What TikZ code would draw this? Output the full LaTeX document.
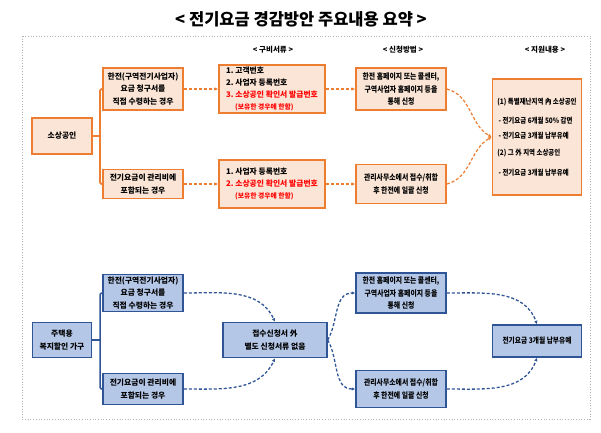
\documentclass[tikz,border=0pt]{standalone}
\usepackage{fontspec}
\setmainfont{Noto Sans CJK KR}
\newfontfamily\narrowkr{Noto Sans CJK KR}[FakeStretch=0.86]
\usetikzlibrary{arrows.meta, positioning, calc}
\definecolor{orline}{HTML}{ED7D31}
\definecolor{orfill}{HTML}{FBE5D6}
\definecolor{blline}{HTML}{2F5597}
\definecolor{blfill}{HTML}{B4C7E7}
\definecolor{redtxt}{HTML}{FF0000}

\begin{document}
\begin{tikzpicture}[x=1pt, y=-1pt, >={Latex[length=3.5pt,width=3.5pt]},
  obox/.style={draw=orline, fill=orfill, line width=1.8pt, inner sep=2pt, align=center,
    font=\bfseries\fontsize{7.8}{12.5}\selectfont},
  bbox/.style={draw=blline, fill=blfill, line width=1.5pt, inner sep=2pt, align=center,
    font=\bfseries\fontsize{7.8}{12.5}\selectfont},
  oline/.style={draw=orline, line width=1.8pt, rounded corners=2pt},
  bline/.style={draw=blline, line width=1.5pt, rounded corners=2pt},
  odash/.style={draw=orline, line width=1.2pt, dash pattern=on 3pt off 2pt, ->},
  bdash/.style={draw=blline, line width=1.3pt, dash pattern=on 3pt off 2pt, ->},
  head/.style={font=\bfseries\fontsize{7.5}{9}\selectfont}]
  \useasboundingbox (0,0) rectangle (601,432);

  % title, frame and column heads
  \node[font=\bfseries\fontsize{16.5}{19}\selectfont] (title) at (301,19) {< 전기요금 경감방안 주요내용 요약 >};
  \draw[gray!60, dotted, line width=0.7pt] (22,36) rectangle (590,419);
  \node[head] (hdocs) at (273,50) {< 구비서류 >};
  \node[head] (happly) at (403,50) {< 신청방법 >};
  \node[head] (hsupport) at (545,50) {< 지원내용 >};

  % upper part: small business owners
  \node[obox, minimum width=60pt, minimum height=36pt] (sbiz) at (62,136) {소상공인};
  \node[obox, minimum width=80pt, minimum height=42pt] (case1) at (143,89)
    {한전(구역전기사업자)\\요금 청구서를\\직접 수령하는 경우};
  \node[obox, minimum width=80pt, minimum height=29pt] (case2) at (143,184)
    {전기요금이 관리비에\\포함되는 경우};
  \node[obox, minimum width=106pt, minimum height=48pt, align=left,
    font=\bfseries\fontsize{7.8}{11.8}\selectfont] (docs1) at (272,89)
    {1.\ 고객번호\\2.\ 사업자 등록번호\\{\color{redtxt}3.\ 소상공인 확인서 발급번호}\\
     \hspace*{9pt}{\color{redtxt}\fontsize{6.8}{8}\selectfont(보유한 경우에 한함)}};
  \node[obox, minimum width=106pt, minimum height=48pt, align=left,
    font=\bfseries\fontsize{7.8}{11.8}\selectfont] (docs2) at (272,184)
    {1.\ 사업자 등록번호\\{\color{redtxt}2.\ 소상공인 확인서 발급번호}\\
     \hspace*{9pt}{\color{redtxt}\fontsize{6.8}{8}\selectfont(보유한 경우에 한함)}};
  \node[obox, minimum width=90pt, minimum height=42pt, font=\narrowkr\bfseries\fontsize{8}{12.8}\selectfont] (apply1) at (401,89)
    {한전 홈페이지 또는 콜센터,\\구역사업자 홈페이지 등을\\통해 신청};
  \node[obox, minimum width=90pt, minimum height=39pt, font=\narrowkr\bfseries\fontsize{8}{12.8}\selectfont] (apply2) at (401,184)
    {관리사무소에서 접수/취합\\후 한전에 일괄 신청};
  \node[obox, minimum width=89pt, minimum height=116pt, align=left,
    font=\narrowkr\bfseries\fontsize{7.5}{14}\selectfont] (support) at (537,137)
    {(1) 특별재난지역 內 소상공인\\[5pt]
     \,- 전기요금 6개월 50\% 감면\\[1pt]
     \,- 전기요금 3개월 납부유예\\[3pt]
     (2) 그 外 지역 소상공인\\[6pt]
     \,- 전기요금 3개월 납부유예};

  \coordinate (sjoint) at (100,136);
  \draw[oline] (sbiz.east) -- (sjoint);
  \draw[oline] (case1.west) -| (sjoint) |- (case2.west);
  \draw[odash] (case1) -- (docs1);
  \draw[odash] (case2) -- (docs2);
  \draw[odash] (docs1) -- (apply1);
  \draw[odash] (docs2) -- (apply2);
  \draw[odash] (apply1.east) to[out=-15, in=150] (support.west);
  \draw[odash] (apply2.east) to[out=15, in=-150] (support.west);

  % lower part: households with welfare discount
  \node[bbox, minimum width=59pt, minimum height=35pt] (home) at (62,340) {주택용\\복지할인 가구};
  \node[bbox, minimum width=80pt, minimum height=37pt] (case3) at (143,293)
    {한전(구역전기사업자)\\요금 청구서를\\직접 수령하는 경우};
  \node[bbox, minimum width=80pt, minimum height=31pt] (case4) at (143,389)
    {전기요금이 관리비에\\포함되는 경우};
  \node[bbox, minimum width=104pt, minimum height=35pt] (hub) at (275,340)
    {접수신청서 外\\별도 신청서류 없음};
  \node[bbox, minimum width=90pt, minimum height=40pt, font=\narrowkr\bfseries\fontsize{8}{12.8}\selectfont] (apply3) at (401,293)
    {한전 홈페이지 또는 콜센터,\\구역사업자 홈페이지 등을\\통해 신청};
  \node[bbox, minimum width=90pt, minimum height=37pt, font=\narrowkr\bfseries\fontsize{8}{12.8}\selectfont] (apply4) at (401,389)
    {관리사무소에서 접수/취합\\후 한전에 일괄 신청};
  \node[bbox, minimum width=89pt, minimum height=32pt, font=\narrowkr\bfseries\fontsize{7.8}{10}\selectfont] (final) at (537,341)
    {전기요금 3개월 납부유예};

  \coordinate (hjoint) at (100,340);
  \draw[bline] (home.east) -- (hjoint);
  \draw[bline] (case3.west) -| (hjoint) |- (case4.west);
  \draw[bdash] (case3.east) to[out=0, in=115] (hub.north);
  \draw[bdash] (case4.east) to[out=0, in=-115] (hub.south);
  \draw[bdash] (hub.east) to[out=60, in=180] (apply3.west);
  \draw[bdash] (hub.east) to[out=-60, in=180] (apply4.west);
  \draw[bdash] (apply3.east) to[out=0, in=110] (final.north);
  \draw[bdash] (apply4.east) to[out=0, in=-110] (final.south);
\end{tikzpicture}
\end{document}
